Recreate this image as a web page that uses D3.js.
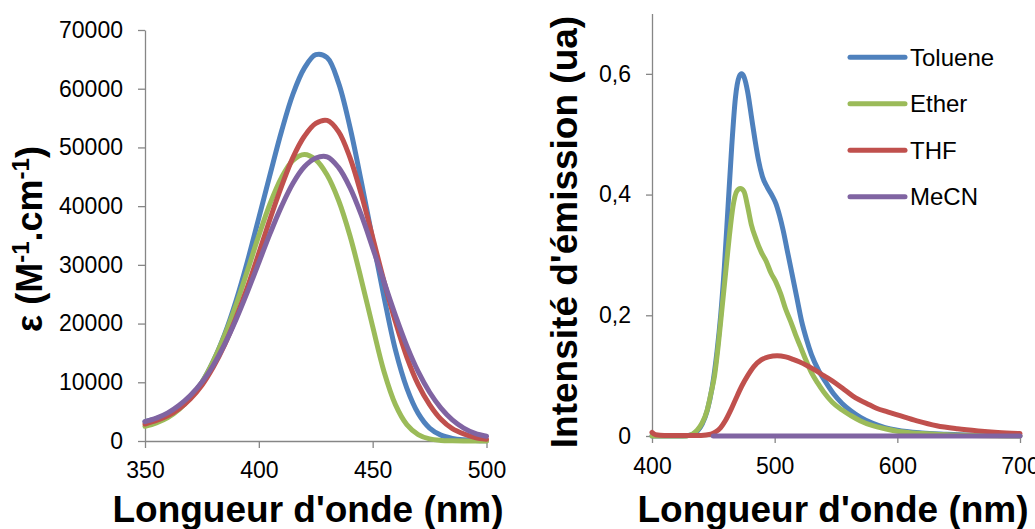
<!DOCTYPE html>
<html><head><meta charset="utf-8">
<script src="https://cdn.jsdelivr.net/npm/d3@7"></script>
<style>
body{margin:0;background:#fff}
svg text{font-family:"Liberation Sans",Arial,sans-serif;fill:#000}
</style>
</head><body>
<svg id="c" width="1035" height="529"></svg>
<script>
// ---------- data ----------
const seriesNames = ["Toluene", "Ether", "THF", "MeCN"];
const seriesColors = ["#4F81BD", "#9BBB59", "#C0504D", "#8064A2"];

// Absorption (left panel), wavelength grid in nm
const absWavelengths = [350,355,360,365,370,375,380,385,390,395,400,405,410,415,420,425,430,435,440,445,450,455,460,465,470,475,480,485,490,495,500];
const absToluene = [3300,3800,4600,5700,7500,10000,13600,18200,23900,30600,38000,45500,52800,59100,63500,65800,65300,61000,53500,44200,34300,24500,15500,9000,4700,2200,1000,450,200,80,30];
const absEther   = [2500,3100,4000,5400,7400,10000,13600,18000,23200,29000,35000,40500,44900,47800,48800,47900,45300,41000,35000,27500,19500,11800,6200,2800,1100,350,100,30,0,0,0];
const absTHF     = [2900,3500,4300,5500,7200,9500,12600,16400,21000,26200,32000,37900,43400,48300,51900,54100,54600,52700,48300,42000,34700,27200,20300,14300,9600,6200,3700,2100,1200,600,300];
const absMeCN    = [3300,3900,4800,6100,7800,10000,12900,16500,20700,25400,30400,35400,40000,43900,46700,48200,48400,46600,43200,38500,32900,27100,21400,16200,11800,8300,5600,3600,2200,1300,800];

// Emission (right panel): [wavelength nm, intensity ua]
const emToluene = [[400,0],[425,0],[432,0.002],[437,0.008],[441,0.02],[445,0.042],[449,0.08],[453,0.14],[456,0.2],[459,0.28],[462,0.38],[465,0.48],[468,0.56],[471,0.595],[473,0.6],[475,0.595],[478,0.57],[481,0.53],[484,0.49],[487,0.455],[490,0.43],[494,0.412],[498,0.398],[501,0.385],[504,0.365],[507,0.34],[510,0.31],[514,0.27],[518,0.23],[522,0.19],[526,0.16],[530,0.135],[536,0.108],[542,0.088],[548,0.07],[555,0.054],[562,0.042],[570,0.031],[580,0.021],[590,0.014],[600,0.0095],[620,0.005],[640,0.003],[660,0.0015],[680,0.0008],[700,0.0004]];
const emEther = [[400,0],[428,0],[433,0.003],[437,0.01],[441,0.022],[445,0.043],[448,0.07],[451,0.1],[454,0.15],[457,0.21],[460,0.27],[463,0.33],[466,0.38],[469,0.405],[472,0.41],[475,0.405],[478,0.38],[481,0.35],[485,0.325],[489,0.305],[493,0.29],[497,0.27],[501,0.255],[505,0.235],[509,0.21],[513,0.19],[517,0.168],[521,0.148],[525,0.128],[530,0.105],[535,0.088],[540,0.073],[547,0.056],[555,0.043],[562,0.034],[570,0.025],[580,0.017],[590,0.012],[600,0.008],[620,0.004],[640,0.002],[660,0.001],[700,0]];
const emTHF = [[400,0.006],[403,0.002],[410,0.001],[440,0.001],[448,0.003],[452,0.007],[456,0.014],[460,0.026],[464,0.042],[468,0.06],[473,0.082],[478,0.1],[483,0.115],[489,0.126],[495,0.131],[502,0.133],[509,0.131],[515,0.127],[520,0.123],[527,0.116],[533,0.109],[540,0.1],[550,0.087],[558,0.075],[566,0.063],[575,0.054],[583,0.046],[592,0.04],[600,0.035],[616,0.025],[632,0.017],[649,0.012],[666,0.0085],[682,0.006],[700,0.004]];
const emMeCN = [[450,0],[700,0]];

// Tick values
const absXTicks = [350,400,450,500];
const absYTicks = [0,10000,20000,30000,40000,50000,60000,70000];
const emXTicks = [400,500,600,700];
const emYTicks = [0,0.2,0.4,0.6];

// ---------- drawing ----------
const svg = d3.select("#c");
const axisColor = "#868686";

function styleAxis(g, fs) {
  g.selectAll("path.domain").attr("stroke", axisColor).attr("stroke-width", 1.3);
  g.selectAll(".tick line").attr("stroke", axisColor).attr("stroke-width", 1.3);
  g.selectAll(".tick text").attr("font-size", fs).attr("fill", "#000")
    .style("font-family", '"Liberation Sans", Arial, sans-serif');
}

// Left panel
const xA = d3.scaleLinear().domain([350, 500]).range([145, 486.5]);
const yA = d3.scaleLinear().domain([0, 70000]).range([441, 30]);

const gAx = svg.append("g").attr("transform", `translate(0,${yA(0)})`)
  .call(d3.axisBottom(xA).tickValues(absXTicks).tickSize(7).tickSizeOuter(0).tickPadding(14).tickFormat(d3.format("d")));
styleAxis(gAx, 23);
const gAy = svg.append("g").attr("transform", `translate(${xA(350)},0)`)
  .call(d3.axisLeft(yA).tickValues(absYTicks).tickSize(7).tickSizeOuter(0).tickPadding(15).tickFormat(d3.format("d")));
styleAxis(gAy, 23);

const absSeries = [absToluene, absEther, absTHF, absMeCN];
const lineA = d3.line().x(d => xA(d[0])).y(d => yA(d[1])).curve(d3.curveCatmullRom.alpha(0.5));
absSeries.forEach((vals, i) => {
  const pts = absWavelengths.map((w, j) => [w, vals[j]]);
  svg.append("path").datum(pts).attr("d", lineA)
    .attr("fill", "none").attr("stroke", seriesColors[i]).attr("stroke-width", 5)
    .attr("stroke-linejoin", "round").attr("stroke-linecap", "round");
});

// Left titles
svg.append("text").attr("x", 308).attr("y", 522).attr("text-anchor", "middle")
  .attr("font-size", 37).attr("font-weight", "bold").text("Longueur d'onde (nm)");
const yTitleA = svg.append("text").attr("transform", "translate(42,239) rotate(-90)")
  .attr("text-anchor", "middle").attr("font-size", 36).attr("font-weight", "bold");
yTitleA.append("tspan").text("ε (M");
yTitleA.append("tspan").attr("font-size", 24).attr("dy", -13).text("-1");
yTitleA.append("tspan").attr("dy", 13).text(".cm");
yTitleA.append("tspan").attr("font-size", 24).attr("dy", -13).text("-1");
yTitleA.append("tspan").attr("dy", 13).text(")");

// Right panel
const xE = d3.scaleLinear().domain([400, 700]).range([652, 1020]);
const yE = d3.scaleLinear().domain([0, 0.7]).range([436, 13.5]);

const gEx = svg.append("g").attr("transform", `translate(0,${yE(0)})`)
  .call(d3.axisBottom(xE).tickValues(emXTicks).tickSize(7).tickSizeOuter(0).tickPadding(15).tickFormat(d3.format("d")));
styleAxis(gEx, 23);
const gEy = svg.append("g").attr("transform", `translate(${xE(400)},0)`)
  .call(d3.axisLeft(yE).tickValues(emYTicks).tickSize(6).tickSizeOuter(0).tickPadding(15)
    .tickFormat(v => v === 0 ? "0" : d3.format(".1f")(v).replace(".", ",")));
styleAxis(gEy, 23);

const emSeries = [emToluene, emEther, emTHF, emMeCN];
const lineE = d3.line().x(d => xE(d[0])).y(d => yE(d[1])).curve(d3.curveMonotoneX);
emSeries.forEach((pts, i) => {
  svg.append("path").datum(pts).attr("d", lineE)
    .attr("fill", "none").attr("stroke", seriesColors[i]).attr("stroke-width", 5)
    .attr("stroke-linejoin", "round").attr("stroke-linecap", "round");
});

svg.append("text").attr("x", 833).attr("y", 522).attr("text-anchor", "middle")
  .attr("font-size", 37).attr("font-weight", "bold").text("Longueur d'onde (nm)");
svg.append("text").attr("transform", "translate(577,232) rotate(-90)")
  .attr("text-anchor", "middle").attr("font-size", 37).attr("font-weight", "bold")
  .text("Intensité d'émission (ua)");

// Legend
const legendY = d3.scaleBand().domain(seriesNames).range([34, 220]);
const lg = svg.append("g");
seriesNames.forEach((name, i) => {
  const cy = legendY(name) + legendY.bandwidth() / 2;
  lg.append("line").attr("x1", 850).attr("x2", 905).attr("y1", cy).attr("y2", cy)
    .attr("stroke", seriesColors[i]).attr("stroke-width", 5).attr("stroke-linecap", "round");
  lg.append("text").attr("x", 910).attr("y", cy + 8.5).attr("font-size", 24).text(name);
});
</script>
</body></html>
